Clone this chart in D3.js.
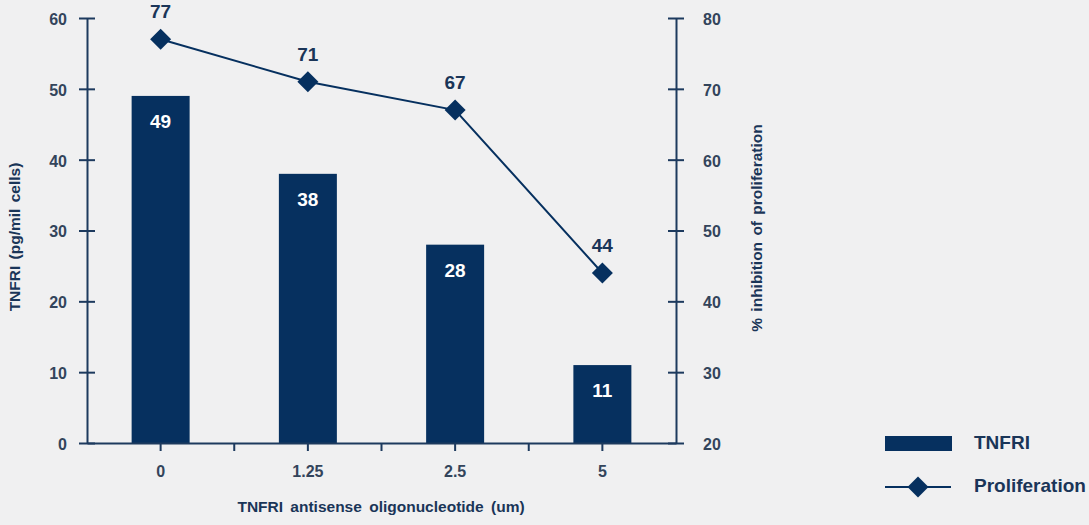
<!DOCTYPE html>
<html>
<head>
<meta charset="utf-8">
<script src="https://cdn.jsdelivr.net/npm/d3@7"></script>
<style>
  html, body { margin: 0; padding: 0; background: #f0f0f1; }
  svg { display: block; font-family: "Liberation Sans", Arial, sans-serif; font-weight: bold; }
</style>
</head>
<body>
<svg id="chart" width="1089" height="525"></svg>
<script>
// Data
const categories = ["0", "1.25", "2.5", "5"];
const tnfriValues = [49, 38, 28, 11];
const proliferationValues = [77, 71, 67, 44];
const leftTicks = [0, 10, 20, 30, 40, 50, 60];
const rightTicks = [20, 30, 40, 50, 60, 70, 80];

const navy = "#06305f";
const axisColor = "#1d3a5e";
const tickText = "#33445b";
const titleColor = "#1a3558";

const svg = d3.select("#chart");

const plotLeft = 87, plotRight = 676, plotTop = 18, plotBottom = 443;

const x = d3.scaleBand().domain(categories).range([plotLeft, plotRight]).paddingInner(0).paddingOuter(0);
const yL = d3.scaleLinear().domain([0, 60]).range([plotBottom, plotTop]);
const yR = d3.scaleLinear().domain([20, 80]).range([plotBottom, plotTop]);
const barW = 58;

// Bars
svg.append("g").selectAll("rect")
  .data(categories)
  .join("rect")
  .attr("x", (d) => x(d) + x.bandwidth() / 2 - barW / 2)
  .attr("y", (d, i) => yL(tnfriValues[i]))
  .attr("width", barW)
  .attr("height", (d, i) => yL(0) - yL(tnfriValues[i]))
  .attr("fill", navy);

// Bar value labels
svg.append("g").selectAll("text")
  .data(categories)
  .join("text")
  .attr("x", (d) => x(d) + x.bandwidth() / 2)
  .attr("y", (d, i) => yL(tnfriValues[i]) + 27)
  .attr("text-anchor", "middle")
  .attr("dominant-baseline", "middle")
  .attr("fill", "#ffffff")
  .attr("font-size", 19)
  .text((d, i) => tnfriValues[i]);

// Left axis (ticks cross the line)
const gL = svg.append("g").attr("transform", `translate(${plotLeft},0)`)
  .call(d3.axisLeft(yL).tickValues(leftTicks).tickSizeOuter(0).tickSizeInner(8).tickPadding(12));
gL.select(".domain").attr("stroke", axisColor).attr("stroke-width", 2);
gL.selectAll(".tick line").attr("x1", -8).attr("x2", 8).attr("stroke", axisColor).attr("stroke-width", 2);
gL.selectAll(".tick text").attr("fill", tickText).attr("font-size", 16).attr("font-family", null).attr("dy", "0.4em");

// Right axis
const gR = svg.append("g").attr("transform", `translate(${plotRight},0)`)
  .call(d3.axisRight(yR).tickValues(rightTicks).tickSizeOuter(0).tickSizeInner(8).tickPadding(19));
gR.select(".domain").attr("stroke", axisColor).attr("stroke-width", 2);
gR.selectAll(".tick line").attr("x1", -8).attr("x2", 8).attr("stroke", axisColor).attr("stroke-width", 2);
gR.selectAll(".tick text").attr("fill", tickText).attr("font-size", 16).attr("font-family", null).attr("dy", "0.4em");

// Bottom axis
const gB = svg.append("g").attr("transform", `translate(0,${plotBottom})`)
  .call(d3.axisBottom(x).tickSizeOuter(0).tickSizeInner(8).tickPadding(15));
gB.select(".domain").attr("stroke", axisColor).attr("stroke-width", 2);
gB.selectAll(".tick line").attr("stroke", axisColor).attr("stroke-width", 2);
gB.selectAll(".tick text").attr("fill", tickText).attr("font-size", 16).attr("font-family", null);
// Minor ticks between categories
gB.append("g").selectAll("line")
  .data(categories.slice(0, -1))
  .join("line")
  .attr("x1", (d) => x(d) + x.bandwidth())
  .attr("x2", (d) => x(d) + x.bandwidth())
  .attr("y1", 0).attr("y2", 8)
  .attr("stroke", axisColor).attr("stroke-width", 2);

// Proliferation line
const cx = (d) => x(d) + x.bandwidth() / 2;
const line = d3.line().x((d, i) => cx(categories[i])).y((d) => yR(d));
svg.append("path")
  .datum(proliferationValues)
  .attr("d", line)
  .attr("fill", "none")
  .attr("stroke", navy)
  .attr("stroke-width", 2);

const diamond = d3.symbol().type(d3.symbolSquare).size(220);
svg.append("g").selectAll("path")
  .data(proliferationValues)
  .join("path")
  .attr("d", diamond)
  .attr("transform", (d, i) => `translate(${cx(categories[i])},${yR(d)}) rotate(45)`)
  .attr("fill", navy);

svg.append("g").selectAll("text")
  .data(proliferationValues)
  .join("text")
  .attr("x", (d, i) => cx(categories[i]))
  .attr("y", (d) => yR(d) - 26)
  .attr("text-anchor", "middle")
  .attr("dominant-baseline", "middle")
  .attr("fill", titleColor)
  .attr("font-size", 19)
  .text((d) => d);

// Axis titles
svg.append("text")
  .attr("transform", `translate(20,237) rotate(-90)`)
  .attr("text-anchor", "middle")
  .attr("fill", titleColor)
  .attr("font-size", 15.5)
  .attr("word-spacing", 2)
  .text("TNFRI (pg/mil cells)");

svg.append("text")
  .attr("transform", `translate(762,228) rotate(-90)`)
  .attr("text-anchor", "middle")
  .attr("fill", titleColor)
  .attr("font-size", 15.5)
  .attr("word-spacing", 2)
  .text("% inhibition of proliferation");

svg.append("text")
  .attr("x", 381)
  .attr("y", 512)
  .attr("text-anchor", "middle")
  .attr("fill", titleColor)
  .attr("font-size", 15.5)
  .attr("word-spacing", 3)
  .text("TNFRI antisense oligonucleotide (um)");

// Legend
const lg = svg.append("g");
lg.append("rect").attr("x", 885).attr("y", 436).attr("width", 67).attr("height", 15).attr("fill", navy);
lg.append("text").attr("x", 974).attr("y", 444).attr("dominant-baseline", "middle")
  .attr("fill", titleColor).attr("font-size", 19).text("TNFRI");
lg.append("line").attr("x1", 885).attr("x2", 951).attr("y1", 487).attr("y2", 487)
  .attr("stroke", navy).attr("stroke-width", 2);
lg.append("path").attr("d", diamond).attr("transform", "translate(918,487) rotate(45)").attr("fill", navy);
lg.append("text").attr("x", 974).attr("y", 487).attr("dominant-baseline", "middle")
  .attr("fill", titleColor).attr("font-size", 19).text("Proliferation");
</script>
</body>
</html>
